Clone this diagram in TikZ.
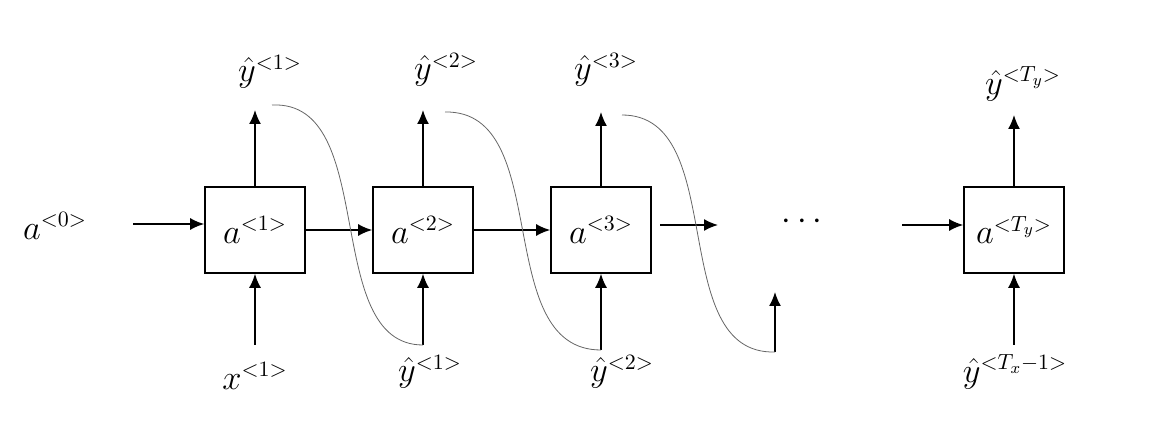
\documentclass[tikz,border=0pt]{standalone}
\usepackage{amsmath}
\usetikzlibrary{arrows.meta}
\begin{document}
\begin{tikzpicture}[x=0.5pt,y=-0.5pt,
  box/.style={draw,thick,minimum width=50pt,minimum height=43pt,inner sep=0pt},
  lab/.style={font=\fontsize{16}{19}\selectfont},
  arr/.style={-{Latex[length=7pt,width=6pt]},thick},
  curve/.style={draw,thin,gray!80!black}]
\useasboundingbox (0,0) rectangle (1152,438);
\node[box,lab] (b1) at (255,230) {$a^{<1>}$};
\node[box,lab] (b2) at (423,230) {$a^{<2>}$};
\node[box,lab] (b3) at (601,230) {$a^{<3>}$};
\node[box,lab] (b4) at (1014,230) {$a^{<T_y>}$};
\node[lab] (a0) at (55,226) {$a^{<0>}$};
\node[lab] (dots) at (805,222) {$\cdots$};
\coordinate (s0) at (133,224);
\coordinate (s3) at (660,225);
\coordinate (e3) at (718,225);
\coordinate (s4) at (902,225);
\draw[arr] (s0) -- (s0 -| b1.west);
\draw[arr] (b1) -- (b2);
\draw[arr] (b2) -- (b3);
\draw[arr] (s3) -- (e3);
\draw[arr] (s4) -- (s4 -| b4.west);
% outputs
\node[lab] (y1) at (270,72) {$\hat{y}^{<1>}$};
\node[lab] (y2) at (446,70) {$\hat{y}^{<2>}$};
\node[lab] (y3) at (606,70) {$\hat{y}^{<3>}$};
\node[lab] (y4) at (1023,84) {$\hat{y}^{<T_y>}$};
\coordinate (u1) at (255,110); \coordinate (u2) at (425,110);
\coordinate (u3) at (599,112); \coordinate (u4) at (1018,115);
\draw[arr] (b1.north) -- (b1.north |- u1);
\draw[arr] (b2.north) -- (b2.north |- u2);
\draw[arr] (b3.north) -- (b3.north |- u3);
\draw[arr] (b4.north) -- (b4.north |- u4);
% inputs
\node[lab] (x1) at (255,376) {$x^{<1>}$};
\node[lab] (i2) at (430,372) {$\hat{y}^{<1>}$};
\node[lab] (i3) at (622,372) {$\hat{y}^{<2>}$};
\node[lab] (i4) at (1015,372) {$\hat{y}^{<T_x-1>}$};
\coordinate (d1) at (255,345); \coordinate (d2) at (423,345);
\coordinate (d3) at (601,350); \coordinate (d4) at (1014,345);
\coordinate (d5) at (775,352); \coordinate (t5) at (775,292);
\draw[arr] (d1) -- (d1 |- b1.south);
\draw[arr] (d2) -- (d2 |- b2.south);
\draw[arr] (d3) -- (d3 |- b3.south);
\draw[arr] (d4) -- (d4 |- b4.south);
\draw[arr] (d5) -- (t5);
% feedback curves
\coordinate (c1) at (272,105); \coordinate (c2) at (445,112); \coordinate (c3) at (622,115);
\draw[curve] (c1) .. controls (380,100) and (320,345) .. (d2);
\draw[curve] (c2) .. controls (555,110) and (490,350) .. (d3);
\draw[curve] (c3) .. controls (730,115) and (665,355) .. (d5);
\end{tikzpicture}
\end{document}
